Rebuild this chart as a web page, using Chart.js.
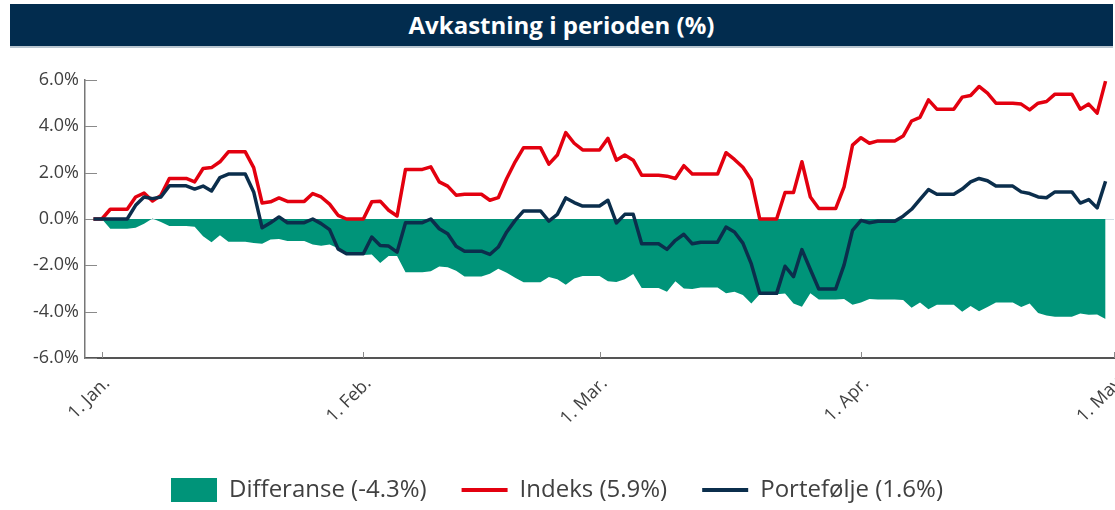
<!DOCTYPE html>
<html>
<head>
<meta charset="utf-8">
<script src="https://cdn.jsdelivr.net/npm/chart.js@4/dist/chart.umd.min.js"></script>
<style>
  html, body { margin: 0; padding: 0; background: #fff; overflow: hidden; }
  #title {
    position: absolute; left: 10px; top: 4px; width: 1103px; height: 42px;
    background: #022c4e; color: #fff; border-bottom: 2px solid #b9c6d0;
    font: bold 24px "Open Sans", sans-serif; line-height: 42px; text-align: center;
  }
  #wrap { position: absolute; left: 0; top: 50px; width: 1115px; height: 462px; }
</style>
</head>
<body>
<div id="title">Avkastning i perioden (%)</div>
<div id="wrap"><canvas id="chart" width="1115" height="462"></canvas></div>
<script>
// dag 0 = 1. januar, første punkt er dagen før
const startDay = -1;

const tickDays = [0, 31, 59, 90, 120];
const tickLabels = ["1. Jan.", "1. Feb.", "1. Mar.", "1. Apr.", "1. May"];

const seriesNames = ["Differanse (-4.3%)", "Indeks (5.9%)", "Portefølje (1.6%)"];

const indeks = [
  0, 0, 0.42, 0.42, 0.42, 0.95, 1.12, 0.78, 1.02, 1.75,
  1.75, 1.75, 1.6, 2.18, 2.22, 2.47, 2.9, 2.9, 2.9, 2.22,
  0.69, 0.74, 0.91, 0.76, 0.76, 0.76, 1.1, 0.95, 0.64, 0.16,
  0, 0, 0, 0.74, 0.77, 0.38, 0.13, 2.14, 2.14, 2.14,
  2.25, 1.6, 1.42, 1.03, 1.07, 1.07, 1.07, 0.81, 0.92, 1.75,
  2.47, 3.08, 3.08, 3.08, 2.37, 2.76, 3.73, 3.27, 2.98, 2.98,
  2.98, 3.48, 2.54, 2.76, 2.54, 1.89, 1.89, 1.89, 1.85, 1.75,
  2.3, 1.94, 1.94, 1.94, 1.94, 2.86, 2.57, 2.23, 1.68, 0,
  0, 0, 1.14, 1.14, 2.47, 0.95, 0.45, 0.45, 0.45, 1.39,
  3.19, 3.51, 3.27, 3.37, 3.37, 3.37, 3.58, 4.23, 4.39, 5.14,
  4.74, 4.74, 4.74, 5.26, 5.33, 5.72, 5.43, 5.0, 5.0, 5.0,
  4.96, 4.71, 5.0, 5.07, 5.39, 5.39, 5.39, 4.74, 4.96, 4.57,
  5.95
];

const portefolje = [
  0, 0, 0, 0, 0, 0.59, 0.95, 0.88, 0.95, 1.43,
  1.43, 1.43, 1.29, 1.42, 1.21, 1.79, 1.94, 1.94, 1.94, 1.17,
  -0.38, -0.16, 0.09, -0.16, -0.16, -0.16, 0, -0.2, -0.46, -1.29,
  -1.5, -1.5, -1.5, -0.78, -1.14, -1.17, -1.43, -0.16, -0.16, -0.16,
  0, -0.42, -0.64, -1.18, -1.39, -1.39, -1.39, -1.53, -1.21, -0.56,
  -0.06, 0.35, 0.35, 0.35, -0.09, 0.2, 0.91, 0.71, 0.56, 0.56,
  0.56, 0.81, -0.17, 0.2, 0.2, -1.07, -1.07, -1.07, -1.31, -0.92,
  -0.66, -1.07, -1.0, -1.0, -1.0, -0.35, -0.56, -1.04, -1.94, -3.21,
  -3.21, -3.21, -2.04, -2.49, -1.32, -2.18, -3.02, -3.02, -3.02, -1.98,
  -0.49, -0.06, -0.16, -0.1, -0.1, -0.1, 0.12, 0.42, 0.85, 1.27,
  1.07, 1.07, 1.07, 1.29, 1.6, 1.75, 1.65, 1.42, 1.42, 1.42,
  1.17, 1.1, 0.95, 0.92, 1.17, 1.17, 1.17, 0.69, 0.84, 0.48,
  1.63
];

const differanse = [
  0, 0, -0.42, -0.42, -0.42, -0.38, -0.2, 0.02, -0.13, -0.3,
  -0.3, -0.3, -0.33, -0.74, -1.0, -0.7, -0.98, -0.98, -0.98, -1.04,
  -1.07, -0.88, -0.86, -0.95, -0.95, -0.95, -1.1, -1.16, -1.1, -1.26,
  -1.55, -1.55, -1.55, -1.53, -1.9, -1.6, -1.6, -2.3, -2.3, -2.3,
  -2.25, -2.05, -2.08, -2.23, -2.48, -2.48, -2.48, -2.36, -2.15, -2.32,
  -2.54, -2.73, -2.73, -2.73, -2.5, -2.6, -2.84, -2.57, -2.46, -2.46,
  -2.46, -2.69, -2.72, -2.6, -2.37, -2.98, -2.98, -2.98, -3.14, -2.69,
  -3.0, -3.02, -2.96, -2.96, -2.96, -3.2, -3.14, -3.28, -3.65, -3.25,
  -3.25, -3.25, -3.22, -3.65, -3.79, -3.2, -3.48, -3.48, -3.48, -3.45,
  -3.7, -3.6, -3.45, -3.48, -3.48, -3.48, -3.5, -3.83, -3.6, -3.9,
  -3.7, -3.7, -3.7, -4.0, -3.75, -3.98, -3.8, -3.6, -3.6, -3.6,
  -3.8, -3.65, -4.06, -4.17, -4.22, -4.22, -4.22, -4.08, -4.13, -4.12,
  -4.32
];

const GREEN = "#009479";
const RED = "#e3000f";
const NAVY = "#0b2e4c";
const TEXT = "#404040";

const toPoints = (values) => values.map((v, i) => ({ x: startDay + i, y: v }));

// små innvendige tick-streker på aksene
const innerTicks = {
  id: "innerTicks",
  beforeDatasetsDraw(chart) {
    const { ctx, chartArea, scales } = chart;
    ctx.save();
    ctx.strokeStyle = "#8a8a8a";
    ctx.lineWidth = 1;
    ctx.beginPath();
    scales.y.ticks.forEach((t) => {
      const y = Math.round(scales.y.getPixelForValue(t.value)) + 0.5;
      ctx.moveTo(chartArea.left, y);
      ctx.lineTo(chartArea.left + 12, y);
    });
    scales.x.ticks.forEach((t) => {
      const x = Math.round(scales.x.getPixelForValue(t.value)) + 0.5;
      ctx.moveTo(x, chartArea.bottom);
      ctx.lineTo(x, chartArea.bottom - 6);
    });
    ctx.stroke();
    ctx.restore();
  }
};

const ctx = document.getElementById("chart").getContext("2d");
new Chart(ctx, {
  type: "line",
  data: {
    datasets: [
      {
        label: seriesNames[0],
        data: toPoints(differanse),
        fill: "origin",
        backgroundColor: GREEN,
        borderColor: GREEN,
        borderWidth: 0,
        pointRadius: 0,
        order: 3
      },
      {
        label: seriesNames[1],
        data: toPoints(indeks),
        borderColor: RED,
        borderWidth: 3.5,
        borderJoinStyle: "round",
        pointRadius: 0,
        fill: false,
        order: 2
      },
      {
        label: seriesNames[2],
        data: toPoints(portefolje),
        borderColor: NAVY,
        borderWidth: 3.5,
        borderJoinStyle: "round",
        pointRadius: 0,
        fill: false,
        order: 1
      }
    ]
  },
  options: {
    responsive: false,
    animation: false,
    layout: { padding: { top: 30, right: 1, left: 0, bottom: 0 } },
    plugins: {
      tooltip: { enabled: false },
      legend: {
        position: "bottom",
        labels: {
          usePointStyle: true,
          pointStyleWidth: 46,
          boxHeight: 24,
          padding: 35,
          color: TEXT,
          font: { family: "Open Sans", size: 24 },
          generateLabels: (chart) => chart.data.datasets.map((ds, i) => ({
            text: ds.label,
            datasetIndex: i,
            pointStyle: i === 0 ? "rect" : "line",
            fillStyle: i === 0 ? GREEN : ds.borderColor,
            strokeStyle: i === 0 ? GREEN : ds.borderColor,
            lineWidth: i === 0 ? 0 : 4,
            fontColor: TEXT,
            hidden: false
          }))
        }
      }
    },
    scales: {
      x: {
        type: "linear",
        min: -2,
        max: 120,
        afterBuildTicks: (scale) => {
          scale.ticks = tickDays.map((v) => ({ value: v }));
        },
        afterFit: (scale) => {
          scale.height = 85;
          scale.paddingLeft = 0;
          scale.paddingRight = 0;
        },
        grid: { drawOnChartArea: false, drawTicks: false },
        border: { color: "#555", width: 2 },
        ticks: {
          autoSkip: false,
          minRotation: 45,
          maxRotation: 45,
          padding: 15,
          labelOffset: 5,
          color: TEXT,
          font: { family: "Open Sans", size: 18 },
          callback: (v) => tickLabels[tickDays.indexOf(v)]
        }
      },
      y: {
        min: -6,
        max: 6,
        afterFit: (scale) => { scale.width = 85; },
        grid: {
          drawTicks: false,
          color: (c) => (c.tick && c.tick.value === 0 ? "#cddde3" : "rgba(0,0,0,0)")
        },
        border: { color: "#777", width: 1.5 },
        ticks: {
          stepSize: 2,
          padding: 6,
          color: TEXT,
          font: { family: "Open Sans", size: 18 },
          callback: (v) => v.toFixed(1) + "%"
        }
      }
    }
  },
  plugins: [innerTicks]
});
</script>
</body>
</html>
